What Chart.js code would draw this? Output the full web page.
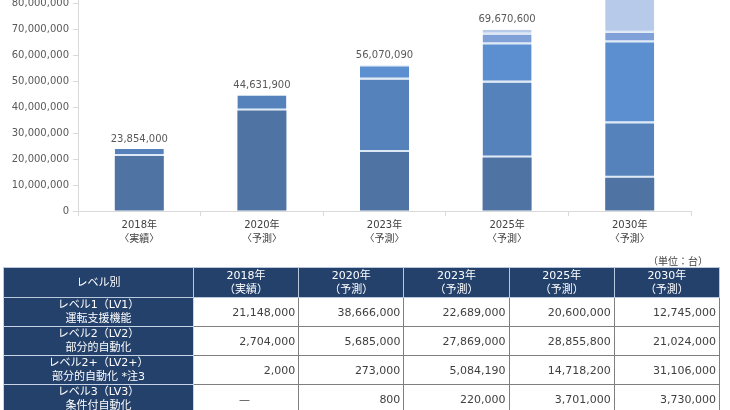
<!DOCTYPE html>
<html>
<head>
<meta charset="utf-8">
<script src="https://cdn.jsdelivr.net/npm/chart.js@4"></script>
<style>
  html, body { margin: 0; padding: 0; background: #fff; }
  body { width: 730px; height: 410px; overflow: hidden; position: relative;
         font-family: "DejaVu Sans", "Noto Sans CJK JP", sans-serif; }
  #chartBox { position: absolute; left: 0; top: -40px; width: 730px; height: 295px; }
  #unit { position: absolute; left: 648px; top: 253px; font-size: 10px; color: #404040; }
  #levelTable { position: absolute; left: 3px; top: 267px; width: 717px;
                border-collapse: collapse; table-layout: fixed; font-size: 11px; }
  #levelTable th { background: #24416b; color: #fff; font-weight: normal; height: 29px;
                   border: 1px solid #b9c8dd; line-height: 14px; padding: 0; }
  #levelTable td { height: 28px; border: 1px solid #7f7f7f; padding: 0 3px 0 0;
                   text-align: right; color: #404040; background: #fff; }
  #levelTable td.name { background: #24416b; color: #fff; text-align: center;
                        line-height: 14px; padding: 0; border: 1px solid #c9d5e6; }
  #levelTable td.dash { text-align: center; }
</style>
</head>
<body>
<div id="chartBox"><canvas id="marketChart" width="730" height="295"></canvas></div>
<div id="unit">（単位：台）</div>
<table id="levelTable"></table>
<script>
var years = ["2018年", "2020年", "2023年", "2025年", "2030年"];
var chartNotes = ["〈実績〉", "〈予測〉", "〈予測〉", "〈予測〉", "〈予測〉"];
var tableNotes = ["（実績）", "（予測）", "（予測）", "（予測）", "（予測）"];

var lv1 = [21148000, 38666000, 22689000, 20600000, 12745000];
var lv2 = [2704000, 5685000, 27869000, 28855800, 21024000];
var lv2plus = [2000, 273000, 5084190, 14718200, 31106000];
var lv3 = [0, 800, 220000, 3701000, 3730000];
// level 4 = total minus the table rows; 2030 is cut off in the picture, estimated
var lv4 = [0, 7100, 207900, 1795600, 15000000];

var rowNames = [
  ["レベル1（LV1）", "運転支援機能"],
  ["レベル2（LV2）", "部分的自動化"],
  ["レベル2+（LV2+）", "部分的自動化 *注3"],
  ["レベル3（LV3）", "条件付自動化"],
];
var rowValues = [lv1, lv2, lv2plus, lv3];

var colors = ["#4f73a2", "#5582bb", "#5c8fcf", "#7fa1d7", "#b7cae9"];
var lineColor = "#dde9f7";

function fmt(v) {
  return v.toLocaleString("en-US");
}

// table
var table = document.getElementById("levelTable");
var html = "<colgroup><col style='width:190px'>";
for (var i = 0; i < years.length; i++) html += "<col>";
html += "</colgroup><tr><th>レベル別</th>";
for (var i = 0; i < years.length; i++) {
  html += "<th>" + years[i] + "<br>" + tableNotes[i] + "</th>";
}
html += "</tr>";
for (var r = 0; r < rowNames.length; r++) {
  html += "<tr><td class='name'>" + rowNames[r][0] + "<br>" + rowNames[r][1] + "</td>";
  for (var c = 0; c < years.length; c++) {
    var v = rowValues[r][c];
    if (v === 0) html += "<td class='dash'>—</td>";
    else html += "<td>" + fmt(v) + "</td>";
  }
  html += "</tr>";
}
table.innerHTML = html;

// totals above the bars
var totalLabels = {
  id: "totalLabels",
  afterDatasetsDraw: function (chart) {
    var ctx = chart.ctx;
    var yScale = chart.scales.y;
    var meta = chart.getDatasetMeta(0);
    ctx.save();
    ctx.font = "10px 'DejaVu Sans'";
    ctx.fillStyle = "#595959";
    ctx.textAlign = "center";
    ctx.textBaseline = "bottom";
    for (var i = 0; i < years.length; i++) {
      var total = 0;
      chart.data.datasets.forEach(function (ds) { total += ds.data[i]; });
      ctx.fillText(fmt(total), meta.data[i].x, yScale.getPixelForValue(total) - 5);
    }
    ctx.restore();
  },
};

function segment(values, color, withLine) {
  return {
    data: values,
    backgroundColor: color,
    borderColor: lineColor,
    borderWidth: withLine ? { bottom: 2, top: 0, left: 0, right: 0 } : 0,
    borderSkipped: false,
    categoryPercentage: 1,
    barPercentage: 0.4,
  };
}

var ctx = document.getElementById("marketChart").getContext("2d");
var chart = new Chart(ctx, {
  type: "bar",
  data: {
    labels: years.map(function (y, i) { return [y, chartNotes[i]]; }),
    datasets: [
      segment(lv1, colors[0], false),
      segment(lv2, colors[1], true),
      segment(lv2plus, colors[2], true),
      segment(lv3, colors[3], true),
      segment(lv4, colors[4], true),
    ],
  },
  options: {
    responsive: false,
    animation: false,
    devicePixelRatio: 1,
    layout: { padding: { top: 17, right: 39, bottom: 4, left: 0 } },
    plugins: {
      legend: { display: false },
      tooltip: { enabled: false },
    },
    scales: {
      x: {
        stacked: true,
        afterFit: function (scale) { scale.height = 40; },
        grid: { drawOnChartArea: false, tickLength: 5, color: "#d9d9d9" },
        border: { color: "#d9d9d9" },
        ticks: {
          padding: 2,
          color: "#404040",
          font: { family: "'DejaVu Sans', 'Noto Sans CJK JP'", size: 10, lineHeight: 1.4 },
        },
      },
      y: {
        stacked: true,
        min: 0,
        max: 90000000,
        afterFit: function (scale) { scale.width = 78; },
        grid: { drawOnChartArea: false, tickLength: 5, color: "#d9d9d9" },
        border: { color: "#d9d9d9" },
        ticks: {
          stepSize: 10000000,
          padding: 4,
          color: "#595959",
          font: { family: "'DejaVu Sans'", size: 10 },
          callback: function (v) { return fmt(v); },
        },
      },
    },
  },
  plugins: [totalLabels],
});
</script>
</body>
</html>
